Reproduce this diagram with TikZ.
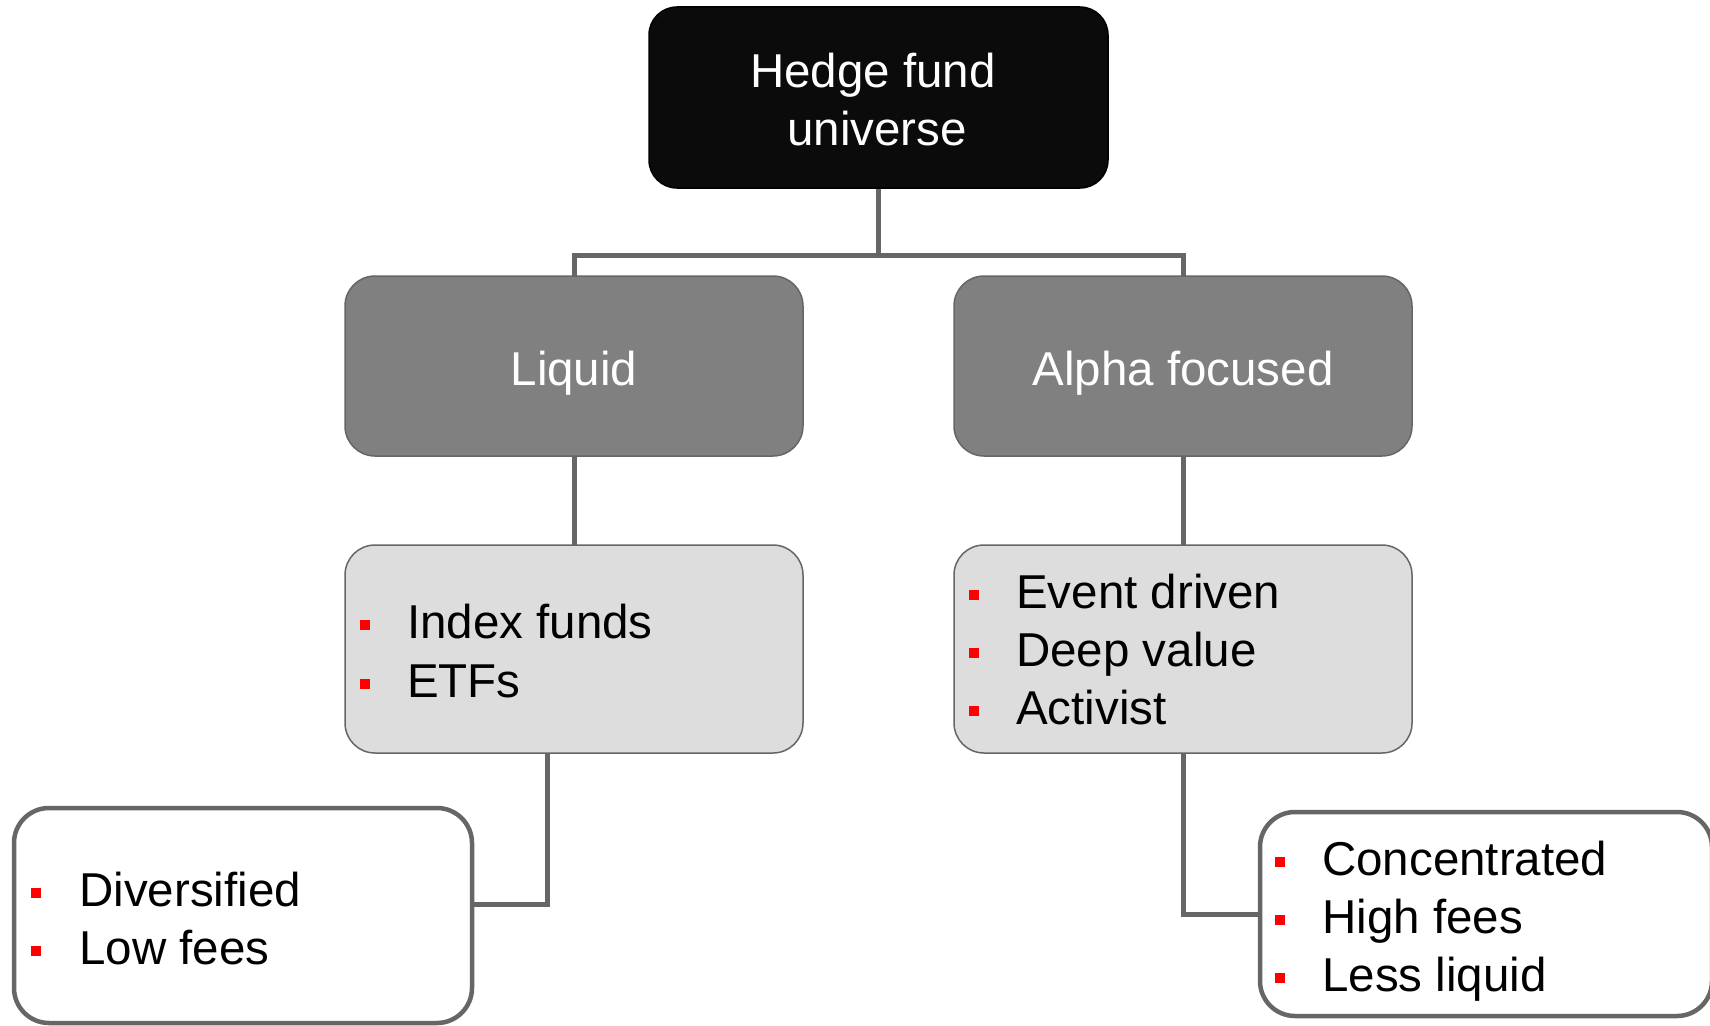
\documentclass[tikz,border=0pt]{standalone}
\usepackage{fontspec}
\setmainfont{Liberation Sans}
\usetikzlibrary{backgrounds}
\definecolor{topfill}{HTML}{0B0B0B}
\definecolor{midfill}{HTML}{808080}
\definecolor{lightfill}{HTML}{DDDDDD}
\definecolor{edgegray}{HTML}{666666}
\begin{document}
\begin{tikzpicture}[x=1pt,y=-1pt,
  boxbase/.style={rectangle, rounded corners=30pt, inner sep=0pt, outer sep=0pt},
  topbox/.style={boxbase, fill=topfill, draw=black, line width=1.5pt, rounded corners=28pt},
  midbox/.style={boxbase, fill=midfill, draw=edgegray, line width=1.5pt},
  listbox/.style={boxbase, fill=lightfill, draw=edgegray, line width=1.5pt},
  outbox/.style={boxbase, fill=white, draw=edgegray, line width=4.5pt, rounded corners=35pt},
  conn/.style={draw=edgegray, line width=5pt},
  whitetxt/.style={text=white, inner sep=0pt, font=\fontsize{47.5}{57}\selectfont},
  itemtxt/.style={text=black, inner sep=0pt, anchor=base west, font=\fontsize{47.5}{57}\selectfont},
  bulsq/.style={rectangle, fill=red, minimum size=10.5pt, inner sep=0pt, outer sep=0pt}
]
\useasboundingbox (0,0) rectangle (1710,1025);

% boxes
\node[topbox, minimum width=459pt, minimum height=181pt] (top) at (878.5,97.5) {};
\node[midbox, minimum width=458pt, minimum height=180pt] (liq) at (574,366) {};
\node[midbox, minimum width=458pt, minimum height=180pt] (alp) at (1183,366) {};
\node[listbox, minimum width=458pt, minimum height=208pt] (liqlist) at (574,649) {};
\node[listbox, minimum width=458pt, minimum height=208pt] (alplist) at (1183,649) {};
\node[outbox, minimum width=458pt, minimum height=215pt] (div) at (243,915.5) {};
\node[outbox, minimum width=452pt, minimum height=204pt] (conc) at (1486,914) {};

% connectors, behind the boxes
\coordinate (j) at (878.5,255);
\begin{scope}[on background layer]
\fill[white] (0,0) rectangle (1710,1025);
\draw[conn] (top.south) -- (j);
\draw[conn] (liq.north) |- (j) -| (alp.north);
\draw[conn] (liq.south) -- (liqlist.north);
\draw[conn] (alp.south) -- (alplist.north);
\draw[conn] ([xshift=-27pt]liqlist.south) |- ([yshift=11.5pt]div.east);
\draw[conn] (alplist.south) |- (conc.west);
\end{scope}

% titles
\node[whitetxt, anchor=base] (t1) at (873,88) {Hedge fund};
\node[whitetxt, anchor=base] (t2) at (877,145) {universe};
\node[whitetxt, anchor=base] (lq) at (574,385) {Liquid};
\node[whitetxt, anchor=base] (af) at (1183,385) {Alpha focused};

% lists
\node[bulsq] (b1) at (365,625) {};
\node[itemtxt] (i1) at (407,638) {Index funds};
\node[bulsq] (b2) at (365,684) {};
\node[itemtxt] (i2) at (407,697) {ETFs};

\node[bulsq] (b3) at (974,595) {};
\node[itemtxt] (i3) at (1016,608) {Event driven};
\node[bulsq] (b4) at (974,653) {};
\node[itemtxt] (i4) at (1016,666) {Deep value};
\node[bulsq] (b5) at (974,711) {};
\node[itemtxt] (i5) at (1016,724) {Activist};

\node[bulsq] (b6) at (36,893) {};
\node[itemtxt] (i6) at (79,906) {Diversified};
\node[bulsq] (b7) at (36,951) {};
\node[itemtxt] (i7) at (79,964) {Low fees};

\node[bulsq] (b8) at (1280,862) {};
\node[itemtxt] (i8) at (1322,875) {Concentrated};
\node[bulsq] (b9) at (1280,920) {};
\node[itemtxt] (i9) at (1322,933) {High fees};
\node[bulsq] (b10) at (1280,978) {};
\node[itemtxt] (i10) at (1322,991) {Less liquid};
\end{tikzpicture}
\end{document}
